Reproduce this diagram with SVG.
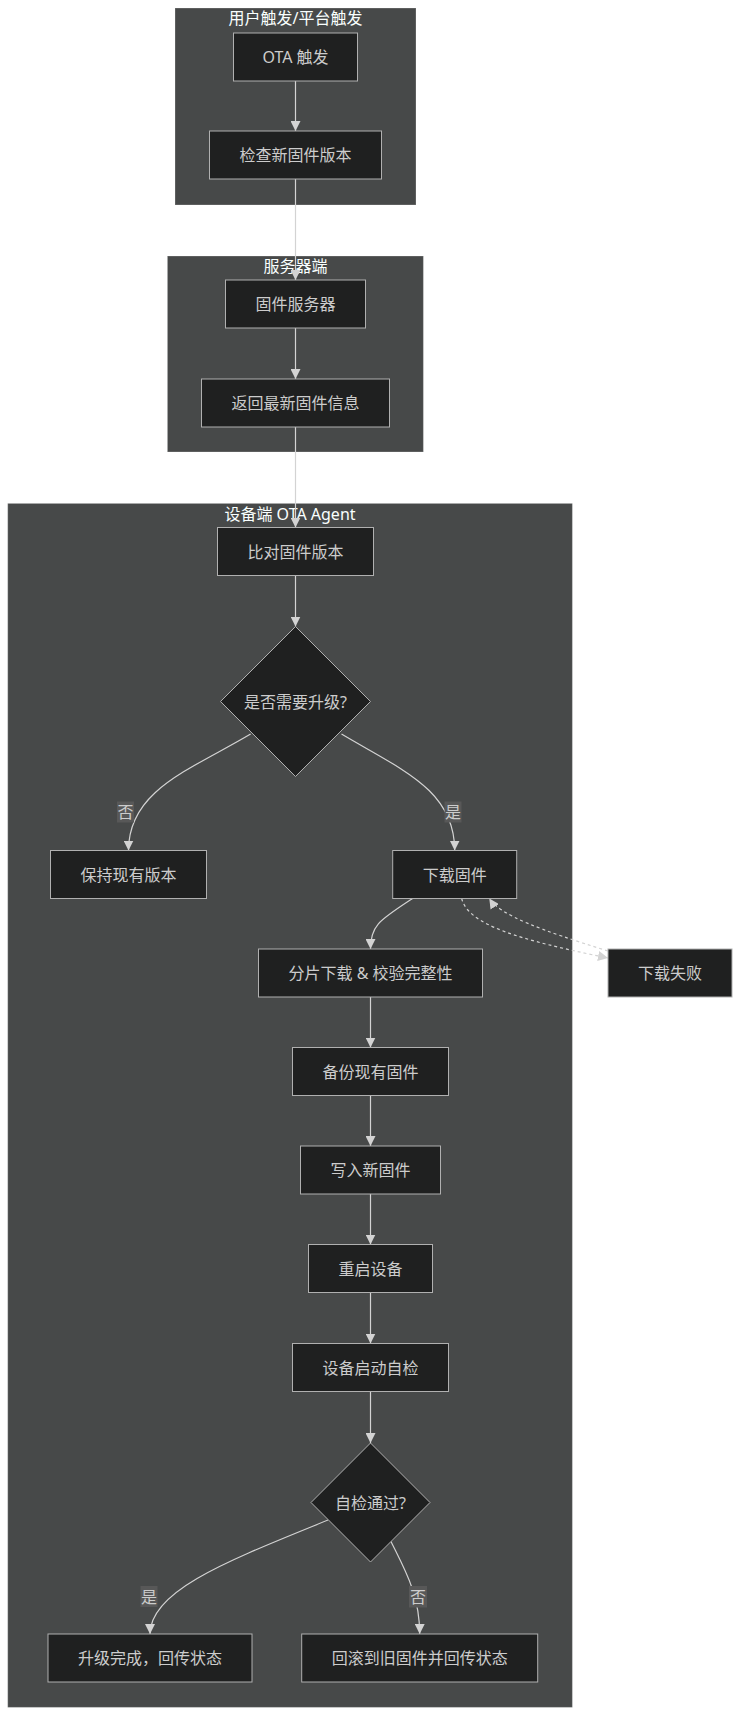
<svg xmlns="http://www.w3.org/2000/svg" width="740" height="1716" viewBox="0 0 740 1716">
<defs>
<style>
.cluster{fill:#474949;stroke:rgba(255,255,255,0.25);stroke-width:1}
.ctitle{fill:#f9fffe;font-family:"Noto Sans","Noto Sans CJK SC",sans-serif;font-size:16px;text-anchor:middle}
.node{fill:#1f2020;stroke:#b0b0b0;stroke-width:1}
.ntext{fill:#cccccc;font-family:"Noto Sans","Noto Sans CJK SC",sans-serif;font-size:16px;text-anchor:middle;dominant-baseline:central}
.edge{fill:none;stroke:#d3d3d3;stroke-width:1.2}
.dash{fill:none;stroke:#d3d3d3;stroke-width:1.2;stroke-dasharray:3 3}
.lbg{fill:#585858}
.ltext{fill:#cccccc;font-family:"Noto Sans","Noto Sans CJK SC",sans-serif;font-size:16px;text-anchor:middle;dominant-baseline:central}
</style>
<marker id="arr" markerUnits="userSpaceOnUse" markerWidth="10" markerHeight="10" viewBox="0 0 10 10" refX="10" refY="5" orient="auto">
<path d="M0,0 L10,5 L0,10 z" fill="#d3d3d3"/>
</marker>
</defs>
<rect width="740" height="1716" fill="#ffffff"/>
<g id="cluster-user">
<rect class="cluster" x="175" y="8" width="241" height="197"/>
<text class="ctitle" x="295.5" y="24">用户触发/平台触发</text>
</g>
<g id="cluster-server">
<rect class="cluster" x="167.4" y="256" width="256" height="196"/>
<text class="ctitle" x="295.5" y="272">服务器端</text>
</g>
<g id="cluster-device">
<rect class="cluster" x="7.7" y="503.4" width="564.7" height="1204"/>
<text class="ctitle" x="290" y="520">设备端 OTA Agent</text>
</g>
<g id="edges">
<path class="edge" d="M295.5,81 L295.5,131" marker-end="url(#arr)"/>
<path class="edge" d="M295.5,179 L295.5,280" marker-end="url(#arr)"/>
<path class="edge" d="M295.5,328 L295.5,379" marker-end="url(#arr)"/>
<path class="edge" d="M295.5,427 L295.5,527.5" marker-end="url(#arr)"/>
<path class="edge" d="M295.5,575.5 L295.5,626.5" marker-end="url(#arr)"/>
<path class="edge" d="M250.6,734 C190,770 128.5,790 128.5,850.5" marker-end="url(#arr)"/>
<path class="edge" d="M341.5,734 C402,770 454.7,790 454.7,850.5" marker-end="url(#arr)"/>
<path class="edge" d="M412.6,898.5 C380,920 370.5,925 370.5,949" marker-end="url(#arr)"/>
<path class="dash" d="M461.7,898.5 C468,925 520,940 608,958" marker-end="url(#arr)"/>
<path class="dash" d="M608,951 C540,930 500,915 489.3,898.5" marker-end="url(#arr)"/>
<path class="edge" d="M370.5,997 L370.5,1047.5" marker-end="url(#arr)"/>
<path class="edge" d="M370.5,1095.5 L370.5,1146" marker-end="url(#arr)"/>
<path class="edge" d="M370.5,1194 L370.5,1244.5" marker-end="url(#arr)"/>
<path class="edge" d="M370.5,1292.5 L370.5,1343.5" marker-end="url(#arr)"/>
<path class="edge" d="M370.5,1391.5 L370.5,1443" marker-end="url(#arr)"/>
<path class="edge" d="M328,1520 C230,1560 150,1590 150,1634" marker-end="url(#arr)"/>
<path class="edge" d="M390.7,1541 C405,1570 419.7,1595 419.7,1634" marker-end="url(#arr)"/>
<g id="label-no1"><rect class="lbg" x="117" y="801.5" width="17" height="21"/><text class="ltext" x="125.5" y="812">否</text></g>
<g id="label-yes1"><rect class="lbg" x="444.5" y="801.5" width="17" height="21"/><text class="ltext" x="453" y="812">是</text></g>
<g id="label-yes2"><rect class="lbg" x="140.5" y="1586" width="17" height="21"/><text class="ltext" x="149" y="1596.5">是</text></g>
<g id="label-no2"><rect class="lbg" x="409" y="1586" width="18" height="21.5"/><text class="ltext" x="418" y="1597">否</text></g>
</g>
<g id="n-ota"><rect class="node" x="233.5" y="33" width="124" height="48"/><text class="ntext" x="295.5" y="57">OTA 触发</text></g>
<g id="n-check"><rect class="node" x="209.5" y="131" width="172" height="48"/><text class="ntext" x="295.5" y="155">检查新固件版本</text></g>
<g id="n-server"><rect class="node" x="225.5" y="280" width="140" height="48"/><text class="ntext" x="295.5" y="304">固件服务器</text></g>
<g id="n-return"><rect class="node" x="201.5" y="379" width="188" height="48"/><text class="ntext" x="295.5" y="403">返回最新固件信息</text></g>
<g id="n-compare"><rect class="node" x="217.5" y="527.5" width="156" height="48"/><text class="ntext" x="295.5" y="551.5">比对固件版本</text></g>
<g id="n-need"><polygon class="node" points="295.5,626.5 370.5,701.5 295.5,776.5 220.5,701.5"/><text class="ntext" x="295.5" y="701.5">是否需要升级?</text></g>
<g id="n-keep"><rect class="node" x="50.5" y="850.5" width="156" height="48"/><text class="ntext" x="128.5" y="874.5">保持现有版本</text></g>
<g id="n-download"><rect class="node" x="392.7" y="850.5" width="124" height="48"/><text class="ntext" x="454.7" y="874.5">下载固件</text></g>
<g id="n-fail"><rect class="node" x="608" y="949" width="124" height="48"/><text class="ntext" x="670" y="973">下载失败</text></g>
<g id="n-chunk"><rect class="node" x="258.5" y="949" width="224" height="48"/><text class="ntext" x="370.5" y="973">分片下载 &amp; 校验完整性</text></g>
<g id="n-backup"><rect class="node" x="292.5" y="1047.5" width="156" height="48"/><text class="ntext" x="370.5" y="1071.5">备份现有固件</text></g>
<g id="n-write"><rect class="node" x="300.5" y="1146" width="140" height="48"/><text class="ntext" x="370.5" y="1170">写入新固件</text></g>
<g id="n-reboot"><rect class="node" x="308.5" y="1244.5" width="124" height="48"/><text class="ntext" x="370.5" y="1268.5">重启设备</text></g>
<g id="n-selftest"><rect class="node" x="292.5" y="1343.5" width="156" height="48"/><text class="ntext" x="370.5" y="1367.5">设备启动自检</text></g>
<g id="n-pass"><polygon class="node" points="370.5,1443 430,1502.5 370.5,1562 311,1502.5"/><text class="ntext" x="370.5" y="1502.5">自检通过?</text></g>
<g id="n-done"><rect class="node" x="48" y="1634" width="204" height="48"/><text class="ntext" x="150" y="1658">升级完成，回传状态</text></g>
<g id="n-rollback"><rect class="node" x="301.7" y="1634" width="236" height="48"/><text class="ntext" x="419.7" y="1658">回滚到旧固件并回传状态</text></g>
</svg>
